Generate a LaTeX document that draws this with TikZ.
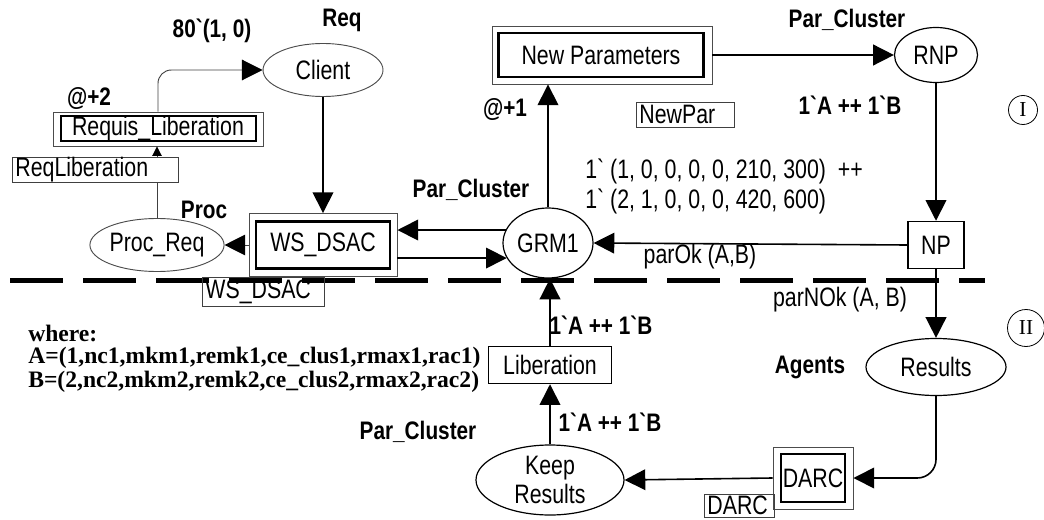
\documentclass[tikz,border=0pt]{standalone}
\usepackage{fontspec}
\usetikzlibrary{arrows.meta,shapes.geometric}
\newfontfamily\cf[FakeStretch=0.8]{Liberation Sans}
\newfontfamily\cfb[FakeStretch=0.82]{Liberation Sans}
\newfontfamily\tf{Liberation Serif}
\newcommand\rg{\cf\fontsize{20}{21}\selectfont}
\newcommand\bd{\cfb\bfseries\fontsize{19}{20}\selectfont}
\newcommand\bq{\symbol{96}}
\begin{document}
\begin{tikzpicture}[x=0.75pt,y=-0.75pt,
  tip/.style={-{Triangle[length=15.5pt,width=15.5pt,color=black]}},
  arr/.style={tip,line width=1.2pt},
  tarr/.style={tip,line width=0.7pt,draw=black!75},
  place/.style={ellipse,draw,line width=0.9pt,fill=white,inner sep=0pt,font=\rg},
  lplace/.style={place,draw=black!70,line width=0.7pt},
  touter/.style={rectangle,draw=black!70,line width=0.7pt,fill=white,inner sep=0pt},
  tinner/.style={rectangle,draw,line width=1.8pt,inner sep=0pt,font=\rg},
  trans/.style={rectangle,draw,line width=1.1pt,fill=white,inner sep=0pt,font=\rg},
  lbox/.style={rectangle,draw=black!75,line width=0.6pt,inner sep=0pt,font=\rg},
  blab/.style={font=\bd,inner sep=0pt},
  rlab/.style={font=\rg,inner sep=0pt},
  slab/.style={font=\tf\bfseries\fontsize{17.7}{19}\selectfont,inner sep=0pt,anchor=west},
  roman/.style={circle,draw,line width=0.6pt,inner sep=0pt,font=\tf\fontsize{16}{16}\selectfont}
]
\useasboundingbox (0,0) rectangle (1044,520);

% dashed separation line
\draw[line width=3.75pt,dash pattern=on 39.75pt off 15pt] (10,280) -- (985,280);

% places
\node[lplace,minimum width=120*0.75pt,minimum height=53*0.75pt] (Client) at (323,70) {Client};
\node[lplace,minimum width=125*0.75pt,minimum height=53*0.75pt] (ProcReq) at (157,245) {Proc\_Req};
\node[place,minimum width=90*0.75pt,minimum height=70*0.75pt] (GRM) at (548,243) {GRM1};
\node[place,minimum width=83*0.75pt,minimum height=55*0.75pt] (RNP) at (936,55) {RNP};
\node[place,minimum width=140*0.75pt,minimum height=57*0.75pt] (Res) at (936,367) {Results};
\node[place,minimum width=148*0.75pt,minimum height=70*0.75pt,align=center] (Keep) at (550,480) {Keep\\[1pt]Results};

% substitution transitions
\node[touter,minimum width=148*0.75pt,minimum height=63*0.75pt] (WS) at (323,245) {};
\node[tinner,minimum width=134*0.75pt,minimum height=47*0.75pt] (WSi) at (323,245) {WS\_DSAC};
\node[touter,minimum width=220*0.75pt,minimum height=58*0.75pt] (NPar) at (602,55) {};
\node[tinner,minimum width=205*0.75pt,minimum height=44*0.75pt] (NPari) at (601,55) {New Parameters};
\node[touter,minimum width=210*0.75pt,minimum height=34*0.75pt] (RL) at (158,129) {};
\node[tinner,line width=1.5pt,minimum width=195*0.75pt,minimum height=19*0.75pt] (RLi) at (158,128.5) {Requis\_Liberation};
\node[touter,minimum width=80*0.75pt,minimum height=62*0.75pt] (DARC) at (813,478) {};
\node[tinner,minimum width=64*0.75pt,minimum height=48*0.75pt] (DARCi) at (813,478) {DARC};

% transitions
\node[trans,minimum width=56*0.75pt,minimum height=47*0.75pt] (NP) at (936,245) {NP};
\node[trans,minimum width=123*0.75pt,minimum height=37*0.75pt] (Lib) at (550,365) {Liberation};

% arcs
\draw[tarr,rounded corners=10pt] (RL.north) |- (Client.west);
\draw[line width=0.7pt,draw=black!75,-{Triangle[length=7pt,width=7pt,color=black]}] (ProcReq.north) -- (ProcReq.north |- RL.south);
\draw[arr] (Client.south) -- (WS.north);
\draw[tarr] (WS.west) -- (ProcReq.east);
\draw[arr] (GRM.163) -- (GRM.163 -| WS.east);
\draw[arr] (WS.east |- GRM.200) -- (GRM.200);
\draw[arr] (GRM.north) -- (GRM.north |- NPar.south);
\draw[arr] (NPar.east) -- (RNP.west);
\draw[arr] (RNP.south) -- (NP.north);
\draw[arr] (NP.west) -- (GRM.east);
\draw[arr] (NP.south) -- (Res.north);
\draw[arr,rounded corners=14pt] (Res.south) |- (DARC.east);
\draw[arr] (DARC.west) -- (Keep.east);
\draw[arr] (Keep.north) -- (Lib.south);
\draw[arr] (Lib.north) -- (Lib.north |- GRM.south);

% label boxes
\node[lbox,fill=white,anchor=west,minimum width=166*0.75pt,minimum height=25*0.75pt,text width=160*0.75pt,align=left,inner xsep=3*0.75pt] (lRL) at (12,169.5) {ReqLiberation};
\node[lbox,anchor=west,minimum height=29*0.75pt,text width=116*0.75pt,align=left,inner xsep=3*0.75pt] (lWS) at (202,291.5) {WS\_DSAC};
\node[lbox,anchor=west,minimum height=25*0.75pt,text width=92*0.75pt,align=left,inner xsep=3*0.75pt] (lNP) at (636,114.5) {NewPar};
\node[lbox,anchor=west,minimum height=23*0.75pt,text width=64*0.75pt,align=left,inner xsep=3*0.75pt] (lDA) at (704,505.5) {DARC};

% inscriptions
\node[blab] (t1) at (342,20) {Req};
\node[blab] (t2) at (212,31) {80\bq(1, 0)};
\node[blab] (t3) at (89,99) {@+2};
\node[blab] (t4) at (204,210) {Proc};
\node[blab] (t5) at (471,190) {Par\_Cluster};
\node[blab] (t6) at (505,110) {@+1};
\node[blab] (t7) at (847,20) {Par\_Cluster};
\node[blab] (t8) at (850,105) {1\bq A ++ 1\bq B};
\node[rlab,anchor=west] (t9) at (585,171) {1\bq{} (1, 0, 0, 0, 0, 210, 300)\ \ ++};
\node[rlab,anchor=west] (t10) at (585,201) {1\bq{} (2, 1, 0, 0, 0, 420, 600)};
\node[rlab] (t11) at (700,257) {parOk (A,B)};
\node[rlab] (t12) at (840,300) {parNOk (A, B)};
\node[blab] (t13) at (810,367) {Agents};
\node[blab] (t14) at (601,325) {1\bq A ++ 1\bq B};
\node[blab] (t15) at (610,422) {1\bq A ++ 1\bq B};
\node[blab] (t16) at (418,432) {Par\_Cluster};

\node[slab] (w1) at (28,333) {where:};
\node[slab] (w2) at (28,358) {A=(1,nc1,mkm1,remk1,ce\_clus1,rmax1,rac1)};
\node[slab] (w3) at (28,382) {B=(2,nc2,mkm2,remk2,ce\_clus2,rmax2,rac2)};

\node[roman,minimum size=29*0.75pt] (r1) at (1023,110) {I};
\node[roman,minimum size=37*0.75pt] (r2) at (1026,328) {II};
\end{tikzpicture}
\end{document}
